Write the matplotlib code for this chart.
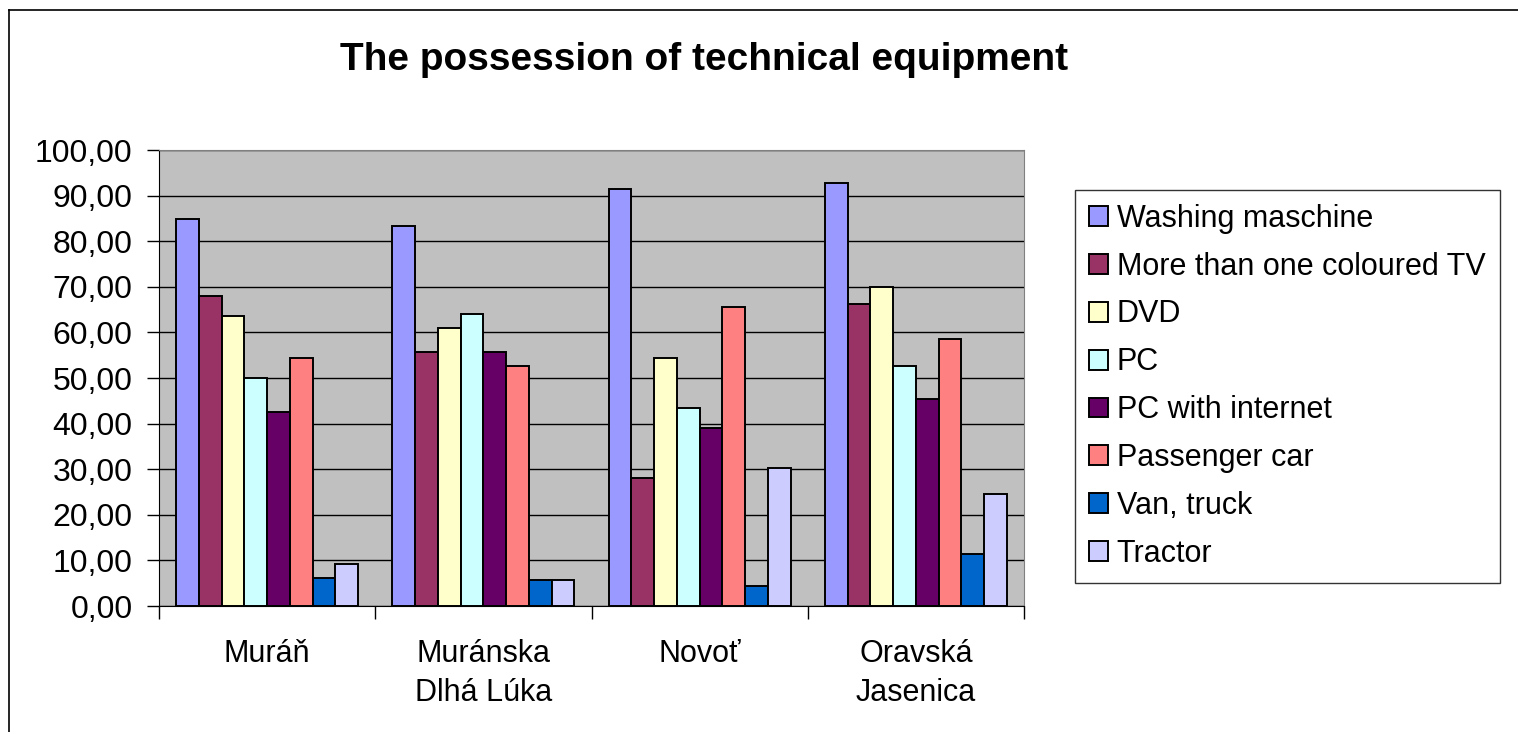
import numpy as np
import matplotlib
matplotlib.use('Agg')
import matplotlib.pyplot as plt
from matplotlib.lines import Line2D
from matplotlib.ticker import FuncFormatter

plt.rcParams['font.family'] = ['Liberation Sans', 'DejaVu Sans']

# data
villages = ['Muráň', 'Muránska\nDlhá Lúka', 'Novoť', 'Oravská\nJasenica']
items = ['Washing maschine', 'More than one coloured TV', 'DVD', 'PC',
         'PC with internet', 'Passenger car', 'Van, truck', 'Tractor']
washing = [84.8, 83.4, 91.4, 92.7]
tv_multi = [68.0, 55.8, 28.1, 66.3]
dvd = [63.7, 60.9, 54.4, 69.9]
pc = [50.0, 64.1, 43.4, 52.7]
pc_net = [42.6, 55.8, 39.0, 45.3]
car = [54.4, 52.7, 65.5, 58.5]
van = [6.2, 5.6, 4.3, 11.3]
tractor = [9.2, 5.6, 30.3, 24.5]
colors = ['#9999FF', '#993366', '#FFFFCC', '#CCFFFF',
          '#660066', '#FF8080', '#0066CC', '#CCCCFF']

series = [washing, tv_multi, dvd, pc, pc_net, car, van, tractor]

W, H = 1518, 732
fig = plt.figure(figsize=(W/100, H/100), dpi=100)
# chart area frame (top + left only visible)
fig.add_artist(Line2D([9/W, 1.0], [1-10/H, 1-10/H], color='black', lw=1.2))
fig.add_artist(Line2D([9/W, 9/W], [0, 1-10/H], color='black', lw=1.2))

ax = fig.add_axes([159/W, 1-606/H, (1024-159)/W, (606-150)/H])
ax.set_facecolor('#C0C0C0')

n = len(series)
bw = 1.0/(n+1.5)
x = np.arange(len(villages))
for i, (vals, c) in enumerate(zip(series, colors)):
    ax.bar(x - n*bw/2 + (i+0.5)*bw, vals, bw, color=c, edgecolor='black',
           lw=1.4, label=items[i], zorder=3)

ax.set_xlim(-0.5, len(villages)-0.5)
ax.set_ylim(0, 100)
ax.set_yticks(np.arange(0, 101, 10))
ax.yaxis.set_major_formatter(FuncFormatter(lambda v, p: f'{v:.2f}'.replace('.', ',')))
ax.grid(axis='y', color='black', lw=1, zorder=1)
ax.set_xticks(np.arange(-0.5, len(villages), 1))
ax.set_xticklabels([])
ax.set_xticks(x, minor=True)
ax.set_xticklabels(villages, minor=True, fontsize=22, va='top', linespacing=1.38)
ax.tick_params(axis='x', which='minor', length=0, pad=24)
ax.tick_params(axis='x', which='major', direction='out', length=9, width=1)
ax.tick_params(axis='y', direction='out', length=9, width=1, labelsize=23, pad=10)
for s in ['top', 'right']:
    ax.spines[s].set_color('#808080')
for s in ['left', 'bottom']:
    ax.spines[s].set_color('black')

fig.text(704/W, 1-60/H, 'The possession of technical equipment',
         ha='center', va='center', fontsize=28, fontweight='bold')

leg = ax.legend(loc='upper left', bbox_to_anchor=(1075/W, 1-574/H, (1500-1075)/W, (574-190)/H),
                bbox_transform=fig.transFigure, mode='expand', fontsize=22,
                frameon=True, fancybox=False, edgecolor='black', borderaxespad=0,
                handlelength=0.62, handleheight=0.62, handletextpad=0.3,
                labelspacing=0.585, borderpad=0.45)
leg.get_frame().set_linewidth(1)

fig.savefig('out.png', dpi=100)
